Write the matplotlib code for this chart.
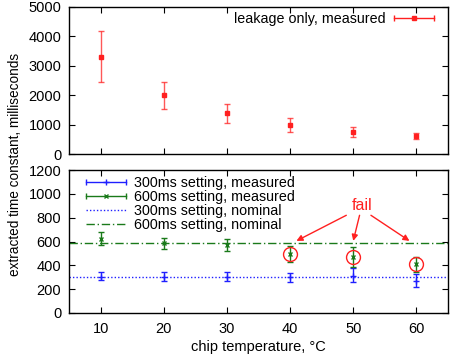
import matplotlib
matplotlib.use("Agg")
import matplotlib.pyplot as plt
from matplotlib.legend_handler import HandlerBase
from matplotlib.lines import Line2D

plt.rcParams["font.family"] = ["Liberation Sans", "DejaVu Sans"]

# chip temperatures
temps = [10, 20, 30, 40, 50, 60]

# leakage only, measured (ms)
leak = [3310, 1990, 1390, 990, 750, 625]
leak_lo = [2450, 1520, 1070, 760, 580, 520]
leak_hi = [4190, 2450, 1690, 1215, 930, 725]

# 300ms setting, measured
s300 = [305, 305, 305, 300, 312, 272]
s300_lo = [277, 270, 265, 264, 264, 217]
s300_hi = [347, 345, 345, 339, 375, 325]

# 600ms setting, measured
s600 = [625, 585, 570, 494, 472, 411]
s600_lo = [569, 533, 520, 430, 389, 347]
s600_hi = [680, 633, 620, 561, 550, 472]

nominal_300 = 300
nominal_600 = 590
fail_temps = [40, 50, 60]

red = "#ff2020"
blue = "#1f1fff"
green = "#1a7a1a"


class HErrHandler(HandlerBase):
    # gnuplot style key sample: horizontal bar with caps and the point in the middle
    def __init__(self, color, marker, ms):
        super().__init__()
        self.color, self.marker, self.ms = color, marker, ms

    def create_artists(self, legend, orig, xd, yd, w, h, fs, trans):
        y = h / 2 - yd
        x0, x1 = -xd, -xd + w
        line = Line2D([x0, x1], [y, y], color=self.color, lw=1)
        caps = Line2D([x0, x1], [y, y], ls="none", marker="|", ms=5, mew=1, color=self.color)
        pt = Line2D([(x0 + x1) / 2], [y], ls="none", marker=self.marker, ms=self.ms,
                    color=self.color)
        out = [line, caps, pt]
        for a in out:
            a.set_transform(trans)
        return out


def errs(v, lo, hi):
    return [[a - b for a, b in zip(v, lo)], [c - a for a, c in zip(v, hi)]]


fig = plt.figure(figsize=(4.54, 3.6), dpi=100)
ax1 = fig.add_axes([69 / 454, 1 - 154 / 360, (448 - 69) / 454, (154 - 7) / 360])
ax2 = fig.add_axes([69 / 454, 1 - 313 / 360, (448 - 69) / 454, (313 - 170) / 360])

# top panel
ax1.errorbar(temps, leak, yerr=errs(leak, leak_lo, leak_hi), fmt="none", ecolor=red,
             elinewidth=1, capsize=2.5, capthick=1, alpha=0.75)
h_leak, = ax1.plot(temps, leak, linestyle="none", marker="s", markersize=3, color=red)
ax1.set_ylim(0, 5000)
ax1.set_yticks([0, 1000, 2000, 3000, 4000, 5000])
ax1.set_xlim(5, 65)
ax1.set_xticks(temps)
ax1.set_xticklabels([])
ax1.legend([h_leak], ["leakage only, measured"], loc="upper right",
           bbox_to_anchor=(0.963, 0.966), frameon=False, markerfirst=False, fontsize=10.3,
           handlelength=2.8, borderaxespad=0, borderpad=0, handletextpad=0.6,
           handler_map={h_leak: HErrHandler(red, "s", 3)})

# bottom panel
ax2.errorbar(temps, s300, yerr=errs(s300, s300_lo, s300_hi), fmt="none", ecolor=blue,
             elinewidth=1, capsize=2.5, capthick=1)
h300, = ax2.plot(temps, s300, linestyle="none", marker="+", markersize=4, color=blue)
ax2.errorbar(temps, s600, yerr=errs(s600, s600_lo, s600_hi), fmt="none", ecolor=green,
             elinewidth=1, capsize=2.5, capthick=1)
h600, = ax2.plot(temps, s600, linestyle="none", marker="x", markersize=3.5, color=green)
n300 = ax2.axhline(nominal_300, color=blue, linestyle=(0, (1, 1.5)), linewidth=1)
n600 = ax2.axhline(nominal_600, color=green, linestyle=(0, (6, 2, 1, 2)), linewidth=1)

fail_vals = [s600[temps.index(t)] for t in fail_temps]
ax2.plot(fail_temps, fail_vals, linestyle="none", marker="o", markersize=10,
         markerfacecolor="none", markeredgecolor=red, markeredgewidth=1)

ax2.text(51.4, 900, "fail", color=red, fontsize=11.5, ha="center", va="center")
for tail, tip in [((48.9, 820), (41.0, 605)), ((51.0, 820), (50.0, 605)),
                  ((52.8, 820), (58.9, 605))]:
    ax2.annotate("", xy=tip, xytext=tail,
                 arrowprops=dict(arrowstyle="-|>", color=red, lw=1, mutation_scale=9,
                                 shrinkA=0, shrinkB=0))

ax2.set_ylim(0, 1200)
ax2.set_yticks(range(0, 1201, 200))
ax2.set_xlim(5, 65)
ax2.set_xticks(temps)
ax2.set_xlabel("chip temperature, \u00b0C", fontsize=10.5, labelpad=2.5)
ax2.legend([h300, h600, n300, n600],
           ["300ms setting, measured", "600ms setting, measured",
            "300ms setting, nominal", "600ms setting, nominal"],
           loc="upper left", bbox_to_anchor=(0.045, 0.96), frameon=False, fontsize=10.3,
           handlelength=2.8, borderaxespad=0, borderpad=0, labelspacing=0.0,
           handletextpad=0.56,
           handler_map={h300: HErrHandler(blue, "+", 4),
                        h600: HErrHandler(green, "x", 3.5)})

for ax in (ax1, ax2):
    ax.tick_params(direction="in", top=True, right=True, labelsize=10.5, length=4)
    ax.tick_params(axis="x", pad=6.5)
    ax.tick_params(axis="y", pad=5.5)
    for s in ax.spines.values():
        s.set_linewidth(1)

fig.text(0.033, 0.542, "extracted time constant, milliseconds",
         rotation=90, ha="center", va="center", fontsize=9.8)

fig.savefig("out.png", dpi=100)
